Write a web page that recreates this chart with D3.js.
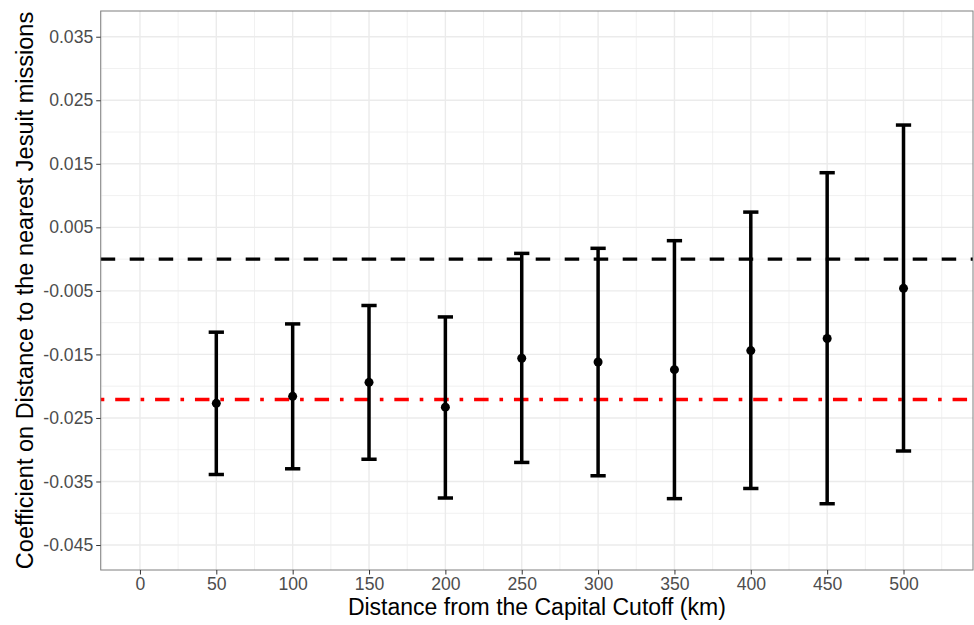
<!DOCTYPE html>
<html>
<head>
<meta charset="utf-8">
<script src="https://cdn.jsdelivr.net/npm/d3@7"></script>
<style>
  body { margin: 0; background: #fff; }
  svg { display: block; font-family: "Liberation Sans", Arial, sans-serif; }
</style>
</head>
<body>
<div id="chart"></div>
<script>
// Coefficient estimates by distance band, with confidence intervals
const distances = [50, 100, 150, 200, 250, 300, 350, 400, 450, 500];
const estimates = [-0.0227, -0.0216, -0.0194, -0.0233, -0.0156, -0.0162, -0.0174, -0.0144, -0.0125, -0.0046];
const lower     = [-0.0339, -0.0330, -0.0315, -0.0376, -0.0320, -0.0341, -0.0377, -0.0361, -0.0385, -0.0302];
const upper     = [-0.0115, -0.0102, -0.0073, -0.0091,  0.0009,  0.0017,  0.0029,  0.0074,  0.0136,  0.0211];

const xTicks = [0, 50, 100, 150, 200, 250, 300, 350, 400, 450, 500];
const xMinor = [-25, 25, 75, 125, 175, 225, 275, 325, 375, 425, 475, 525];
const yTicks = [0.035, 0.025, 0.015, 0.005, -0.005, -0.015, -0.025, -0.035, -0.045];
const yMinor = [0.03, 0.02, 0.01, 0, -0.01, -0.02, -0.03, -0.04];

const zeroLine = 0;
const pooledEstimate = -0.0221;

const W = 974, H = 625;
const panel = { left: 100.7, right: 973, top: 11, bottom: 570 };

const svg = d3.select('#chart').append('svg')
    .attr('width', W)
    .attr('height', H);

const x = d3.scaleLinear()
    .domain([-25.7, 545.5])
    .range([panel.left, panel.right]);

const y = d3.scaleLinear()
    .domain([-0.04893, 0.03905])
    .range([panel.bottom, panel.top]);

// Grid lines
const grid = svg.append('g');
grid.selectAll('.xminor').data(xMinor).enter().append('line')
    .attr('x1', d => x(d)).attr('x2', d => x(d))
    .attr('y1', panel.top).attr('y2', panel.bottom)
    .attr('stroke', '#ebebeb').attr('stroke-width', 0.7);
grid.selectAll('.yminor').data(yMinor).enter().append('line')
    .attr('y1', d => y(d)).attr('y2', d => y(d))
    .attr('x1', panel.left).attr('x2', panel.right)
    .attr('stroke', '#ebebeb').attr('stroke-width', 0.7);
grid.selectAll('.xmajor').data(xTicks).enter().append('line')
    .attr('x1', d => x(d)).attr('x2', d => x(d))
    .attr('y1', panel.top).attr('y2', panel.bottom)
    .attr('stroke', '#ebebeb').attr('stroke-width', 1.4);
grid.selectAll('.ymajor').data(yTicks).enter().append('line')
    .attr('y1', d => y(d)).attr('y2', d => y(d))
    .attr('x1', panel.left).attr('x2', panel.right)
    .attr('stroke', '#ebebeb').attr('stroke-width', 1.4);

// Reference lines
const u = 3.625;
svg.append('line')
    .attr('x1', panel.left).attr('x2', panel.right)
    .attr('y1', y(zeroLine)).attr('y2', y(zeroLine))
    .attr('stroke', '#000')
    .attr('stroke-width', 3.4)
    .attr('stroke-dasharray', `${4 * u} ${4 * u}`);

svg.append('line')
    .attr('x1', panel.left).attr('x2', panel.right)
    .attr('y1', y(pooledEstimate)).attr('y2', y(pooledEstimate))
    .attr('stroke', '#ff0000')
    .attr('stroke-width', 3.4)
    .attr('stroke-dasharray', `${u} ${3 * u} ${4 * u} ${3 * u}`);

// Error bars
const rows = distances.map((d, i) => ({ d, est: estimates[i], lo: lower[i], hi: upper[i] }));
const capHalf = 5;

const bars = svg.append('g');
bars.selectAll('.stem').data(rows).enter().append('line')
    .attr('x1', r => x(r.d)).attr('x2', r => x(r.d))
    .attr('y1', r => y(r.lo)).attr('y2', r => y(r.hi))
    .attr('stroke', '#000').attr('stroke-width', 3.5);
bars.selectAll('.caphi').data(rows).enter().append('line')
    .attr('x1', r => x(r.d - capHalf)).attr('x2', r => x(r.d + capHalf))
    .attr('y1', r => y(r.hi)).attr('y2', r => y(r.hi))
    .attr('stroke', '#000').attr('stroke-width', 3.5);
bars.selectAll('.caplo').data(rows).enter().append('line')
    .attr('x1', r => x(r.d - capHalf)).attr('x2', r => x(r.d + capHalf))
    .attr('y1', r => y(r.lo)).attr('y2', r => y(r.lo))
    .attr('stroke', '#000').attr('stroke-width', 3.5);
bars.selectAll('circle').data(rows).enter().append('circle')
    .attr('cx', r => x(r.d))
    .attr('cy', r => y(r.est))
    .attr('r', 4.5)
    .attr('fill', '#000');

// Panel border
svg.append('rect')
    .attr('x', panel.left).attr('y', panel.top)
    .attr('width', panel.right - panel.left)
    .attr('height', panel.bottom - panel.top)
    .attr('fill', 'none')
    .attr('stroke', '#7f7f7f')
    .attr('stroke-width', 1);

// Axes
const xAxis = svg.append('g')
    .attr('transform', `translate(0,${panel.bottom})`)
    .call(d3.axisBottom(x).tickValues(xTicks).tickSize(4.5).tickPadding(3).tickFormat(d3.format('d')));
const yAxis = svg.append('g')
    .attr('transform', `translate(${panel.left},0)`)
    .call(d3.axisLeft(y).tickValues(yTicks).tickSize(4.5).tickPadding(3).tickFormat(d => d3.format('.3f')(d).replace('−', '-')));

[xAxis, yAxis].forEach(g => {
    g.select('.domain').remove();
    g.selectAll('.tick line').attr('stroke', '#333').attr('stroke-width', 1);
    g.selectAll('.tick text')
        .attr('fill', '#4d4d4d')
        .style('font-size', '17.6px')
        .style('font-family', '"Liberation Sans", Arial, sans-serif');
});

// Axis titles
svg.append('text')
    .attr('x', (panel.left + panel.right) / 2)
    .attr('y', 615)
    .attr('text-anchor', 'middle')
    .style('font-size', '23px')
    .attr('fill', '#000')
    .text('Distance from the Capital Cutoff (km)');

svg.append('text')
    .attr('transform', `translate(33,${(panel.top + panel.bottom) / 2}) rotate(-90)`)
    .attr('text-anchor', 'middle')
    .style('font-size', '23.5px')
    .attr('fill', '#000')
    .text('Coefficient on Distance to the nearest Jesuit missions');
</script>
</body>
</html>
